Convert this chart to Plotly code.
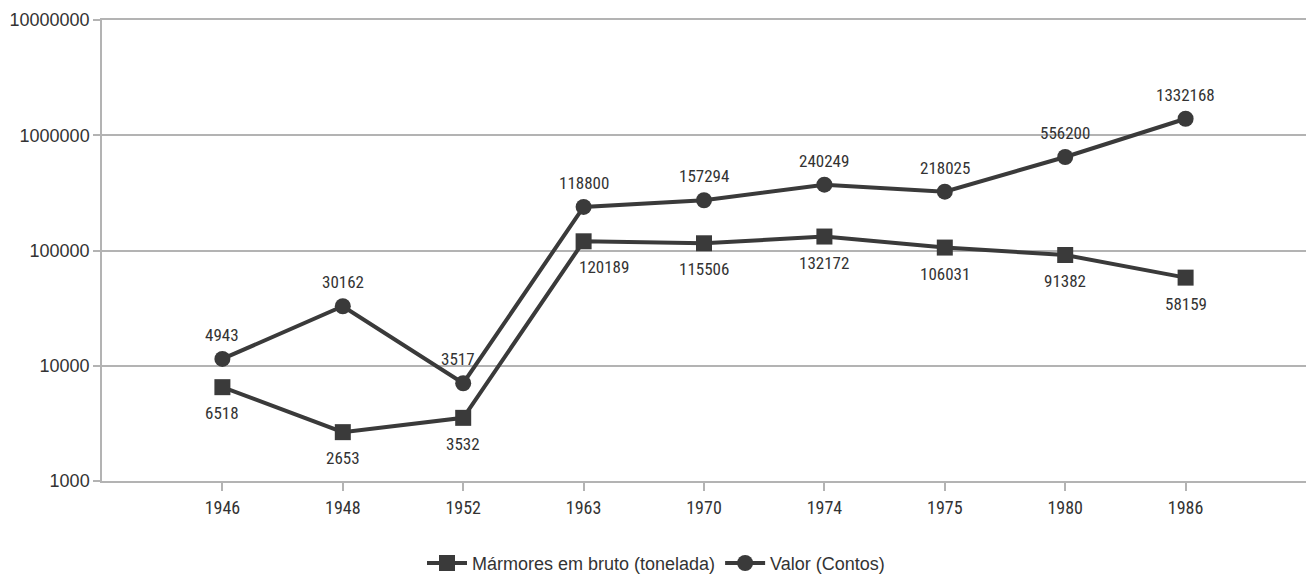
import math
import plotly.graph_objects as go

anos = ["1946", "1948", "1952", "1963", "1970", "1974", "1975", "1980", "1986"]
marmores_t = [6518, 2653, 3532, 120189, 115506, 132172, 106031, 91382, 58159]
valor_contos = [4943, 30162, 3517, 118800, 157294, 240249, 218025, 556200, 1332168]

y_ticks = [1000, 10000, 100000, 1000000, 10000000]

cor = "#3a3a3a"
grade = "#b3b3b3"
cor_texto = "#333333"
fonte = "Liberation Sans, Arial, sans-serif"
fonte_estreita = "Liberation Sans Narrow, Arial Narrow, Roboto Condensed, Liberation Sans, sans-serif"

# horizontal nudges (px) for labels that would sit on a line segment
desvio_x_marmores = {3: 20}
desvio_x_valor = {2: -5}

fig = go.Figure()

# Stacked lines: the value series sits on top of the tonnage series
fig.add_trace(go.Scatter(
    x=anos, y=marmores_t, name="Mármores em bruto (tonelada)",
    stackgroup="s", fill="none", mode="lines+markers",
    line=dict(color=cor, width=4),
    marker=dict(symbol="square", size=16, color=cor),
))
fig.add_trace(go.Scatter(
    x=anos, y=valor_contos, name="Valor (Contos)",
    stackgroup="s", fill="none", mode="lines+markers",
    line=dict(color=cor, width=4),
    marker=dict(symbol="circle", size=16, color=cor),
))

# Data labels: tonnage below its points, value above the stacked points
# (x given as the category index; y in log10 units of the log axis)
for i, (m, v) in enumerate(zip(marmores_t, valor_contos)):
    fig.add_annotation(x=i, y=math.log10(m), text=str(m), showarrow=False,
                       yshift=-26, xshift=desvio_x_marmores.get(i, 0),
                       font=dict(family=fonte_estreita, size=17, color=cor_texto))
    fig.add_annotation(x=i, y=math.log10(m + v), text=str(v), showarrow=False,
                       yshift=24, xshift=desvio_x_valor.get(i, 0),
                       font=dict(family=fonte_estreita, size=17, color=cor_texto))

fig.update_layout(
    width=1312, height=576,
    margin=dict(l=102, r=6, t=20, b=95),
    paper_bgcolor="white", plot_bgcolor="white",
    font=dict(family=fonte, size=14, color=cor_texto),
    showlegend=True,
    legend=dict(orientation="h", xref="container", x=0.5, xanchor="center",
                yref="container", y=0.022, yanchor="middle",
                font=dict(family=fonte, size=18, color=cor_texto),
                itemwidth=40, tracegroupgap=0),
)
fig.update_xaxes(
    type="category", range=[-1, 9],
    showgrid=False, showline=True, linecolor=grade, linewidth=1.5,
    mirror=True,
    ticks="outside", ticklen=8, tickcolor=grade, tickwidth=1.5,
    ticklabelstandoff=2,
    tickfont=dict(family=fonte_estreita, size=18, color=cor_texto),
)
fig.update_yaxes(
    type="log", range=[3, 7],
    tickvals=y_ticks, ticktext=[str(v) for v in y_ticks],
    showgrid=True, gridcolor=grade, gridwidth=1.5,
    showline=True, linecolor=grade, linewidth=1.5,
    ticks="outside", ticklen=7, tickcolor=grade, tickwidth=1.5,
    ticklabelstandoff=0,
    tickfont=dict(family=fonte, size=18, color=cor_texto),
    zeroline=False,
)

fig.write_html("out.html")
